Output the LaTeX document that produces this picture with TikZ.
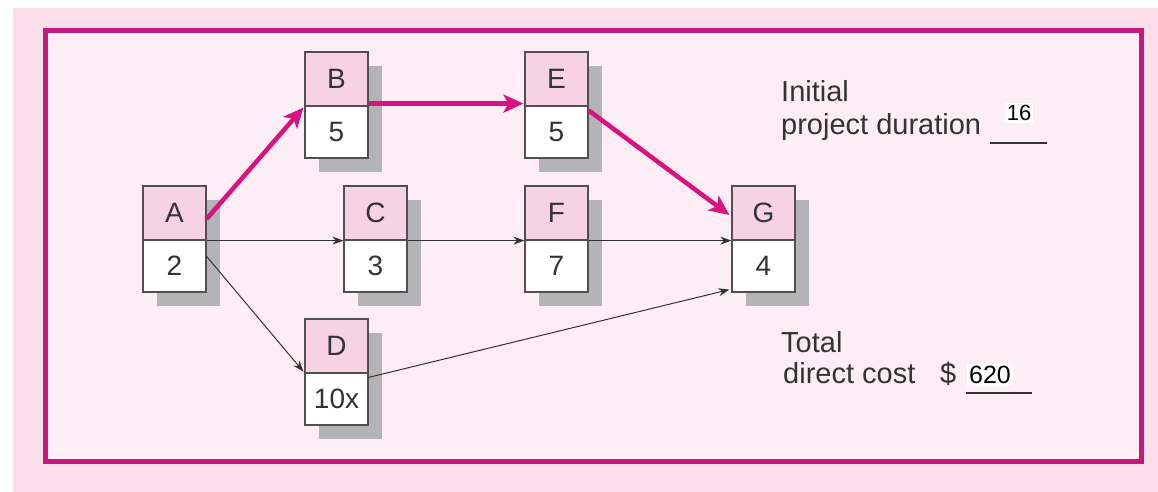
\documentclass[tikz,border=0pt]{standalone}
\usepackage{fontspec}
\setmainfont{Liberation Sans}
\usetikzlibrary{arrows.meta,calc}
\definecolor{outerpink}{HTML}{FADDE8}
\definecolor{innerpink}{HTML}{FDEDF4}
\definecolor{framemag}{HTML}{C5187C}
\definecolor{arrowmag}{HTML}{D8127F}
\definecolor{toppink}{HTML}{F7D2E2}
\definecolor{shadowgray}{HTML}{B4B4B6}
\definecolor{boxline}{HTML}{505050}
\definecolor{txt}{HTML}{333333}
\newcommand{\nodefont}{\fontsize{28}{30}\selectfont}
\newcommand{\labfont}{\fontsize{29}{31}\selectfont}
\begin{document}
\begin{tikzpicture}[x=1pt,y=-1pt,
  tophalf/.style={draw=boxline, fill=toppink, line width=1.2pt, minimum width=63pt, minimum height=54pt, inner sep=0pt, font=\nodefont, text=txt},
  bothalf/.style={draw=boxline, fill=white, line width=1.2pt, minimum width=63pt, minimum height=52pt, inner sep=0pt, font=\nodefont, text=txt},
  critarrow/.style={draw=arrowmag, line width=4.5pt, -{Stealth[length=20pt,width=18pt,inset=5pt]}},
  thinarrow/.style={draw=txt, line width=1pt, -{Stealth[length=11pt,width=8pt]}},
  lab/.style={anchor=base west, inner sep=0pt, font=\labfont, text=txt},
  val/.style={fill=white, inner sep=2pt, text=black},
  rule/.style={draw=txt, line width=1.2pt}
]
\useasboundingbox (0,0) rectangle (1158,492);
\fill[white] (0,0) rectangle (1158,492);
\fill[outerpink] (13,8) rectangle (1158,492);
\draw[framemag, line width=5pt, fill=innerpink] (45.5,30.5) rectangle (1141.5,461.5);

% shadows
\foreach \x/\y in {143/186, 305/52, 344/186, 305/319, 525/52, 525/186, 732/186}{
  \fill[shadowgray] (\x+14,\y+14) rectangle (\x+77,\y+120);
}

% boxes
\node[tophalf] (A) at (174.5,213) {A};
\node[bothalf] (Ab) at (174.5,266) {2};
\node[tophalf] (B) at (336.5,79) {B};
\node[bothalf] (Bb) at (336.5,132) {5};
\node[tophalf] (C) at (375.5,213) {C};
\node[bothalf] (Cb) at (375.5,266) {3};
\node[tophalf] (D) at (336.5,346) {D};
\node[bothalf] (Db) at (336.5,399) {10x};
\node[tophalf] (E) at (556.5,79) {E};
\node[bothalf] (Eb) at (556.5,132) {5};
\node[tophalf] (F) at (556.5,213) {F};
\node[bothalf] (Fb) at (556.5,266) {7};
\node[tophalf] (G) at (763.5,213) {G};
\node[bothalf] (Gb) at (763.5,266) {4};

% thin arrows
\draw[thinarrow] (A.south east) -- (C.south west);
\draw[thinarrow] (C.south east) -- (F.south west);
\draw[thinarrow] (F.south east) -- (G.south west);
\draw[thinarrow] ($(Ab.north east)+(0,17)$) -- ($(D.south west)+(-1,-2)$);
\draw[thinarrow] ($(Db.north east)+(0,5)$) -- ($(Gb.south west)+(-2,-3)$);

% critical path
\draw[critarrow] ($(A.east)+(0,6)$) -- ($(B.south west)+(-1,1)$);
\draw[critarrow] ($(B.south east)+(0,-3)$) -- ($(E.south west)+(-1,-3)$);
\draw[critarrow] ($(Eb.north east)+(0,5)$) -- ($(G.west)+(-2,2)$);

% labels
\node[lab] (l1) at (781,102) {Initial};
\node[lab] (l2) at (781,135) {project duration};
\node[val, font=\fontsize{22}{24}\selectfont] (v1) at (1019,113) {16};
\draw[rule] (990,143) -- (1047,143);
\node[lab] (l3) at (781,352) {Total};
\node[lab] (l4) at (783,383) {direct cost};
\node[lab] (l5) at (940,383) {\$};
\node[val, font=\fontsize{25}{27}\selectfont] (v2) at (990,375) {620};
\draw[rule] (966,393) -- (1032,393);
\end{tikzpicture}
\end{document}
